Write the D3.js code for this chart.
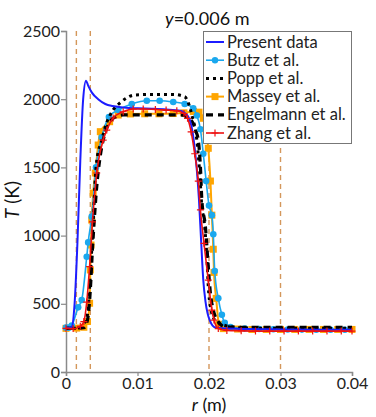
<!DOCTYPE html>
<html><head><meta charset="utf-8">
<script src="https://cdn.jsdelivr.net/npm/d3@7"></script>
<style>body{margin:0;background:#fff}svg{display:block}text{font-family:"Lato","DejaVu Sans",sans-serif}</style>
</head><body>
<svg id="c" width="376" height="417"></svg>
<script>
const xTicks = [0, 0.01, 0.02, 0.03, 0.04];
const xTickLabels = ["0", "0.01", "0.02", "0.03", "0.04"];
const yTicks = [0, 500, 1000, 1500, 2000, 2500];
const yTickLabels = ["0", "500", "1000", "1500", "2000", "2500"];
const refLinesR = [0.00145, 0.0034, 0.02, 0.03];

const presentR = [0, 0.0005, 0.0008, 0.0012, 0.0016, 0.0020, 0.0024, 0.0028, 0.0031, 0.0036, 0.0045, 0.0055, 0.0065, 0.008, 0.010, 0.012, 0.014, 0.016, 0.0168, 0.0173, 0.0177, 0.0180, 0.0183, 0.0186, 0.0189, 0.0192, 0.0195, 0.0198, 0.0201, 0.0205, 0.0210, 0.025, 0.03, 0.035, 0.04];
const presentT = [325, 325, 330, 500, 950, 1550, 2000, 2136, 2100, 2050, 2000, 1965, 1950, 1940, 1933, 1930, 1925, 1915, 1890, 1850, 1760, 1640, 1480, 1261, 960, 674, 520, 430, 380, 340, 325, 315, 312, 310, 310];

const butzR = [0, 0.0004, 0.0008, 0.0017, 0.0022, 0.0029, 0.0031, 0.0036, 0.0042, 0.0050, 0.0060, 0.0073, 0.0092, 0.0113, 0.0131, 0.0150, 0.0166, 0.0178, 0.0183, 0.0188, 0.0192, 0.0196, 0.0200, 0.0204, 0.0206, 0.0208, 0.0213, 0.0218, 0.0222, 0.0230, 0.0250, 0.0270, 0.0290, 0.0310, 0.0330, 0.0350, 0.0370, 0.0390];
const butzT = [325, 325, 340, 474, 528, 845, 950, 1139, 1500, 1720, 1870, 1921, 1965, 1989, 1989, 1980, 1965, 1933, 1880, 1780, 1600, 1400, 1220, 1150, 1010, 740, 540, 420, 360, 330, 318, 315, 313, 312, 311, 310, 310, 310];

const poppR = [0, 0.0020, 0.0026, 0.0030, 0.0034, 0.0037, 0.0039, 0.0041, 0.0043, 0.0050, 0.0055, 0.0066, 0.0076, 0.0085, 0.0095, 0.012, 0.015, 0.0166, 0.0172, 0.0176, 0.0183, 0.0187, 0.0190, 0.0193, 0.0197, 0.0199, 0.0202, 0.0208, 0.0220, 0.0250, 0.0400];
const poppT = [320, 322, 360, 420, 700, 1000, 1200, 1432, 1550, 1700, 1798, 1921, 1975, 2010, 2030, 2035, 2035, 2018, 1960, 1884, 1700, 1459, 1212, 1114, 845, 625, 479, 381, 345, 322, 320];

const masseyR = [0, 0.0015, 0.0025, 0.0030, 0.0033, 0.0034, 0.0035, 0.0036, 0.0038, 0.0041, 0.0045, 0.0048, 0.0061, 0.0073, 0.0090, 0.0110, 0.0130, 0.0150, 0.0165, 0.0178, 0.0186, 0.0192, 0.0196, 0.0199, 0.0202, 0.0204, 0.0206, 0.0207, 0.0210, 0.0214, 0.0220, 0.0240, 0.0260, 0.0280, 0.0300, 0.0320, 0.0340, 0.0360, 0.0380, 0.0400];
const masseyT = [320, 322, 328, 370, 504, 748, 931, 1114, 1312, 1459, 1664, 1762, 1835, 1884, 1892, 1893, 1893, 1895, 1900, 1910, 1905, 1860, 1760, 1640, 1400, 1150, 900, 730, 540, 350, 318, 315, 312, 312, 312, 312, 312, 312, 312, 312];

const engelR = [0, 0.0025, 0.0030, 0.0034, 0.0037, 0.0040, 0.0043, 0.0047, 0.0052, 0.0058, 0.0066, 0.008, 0.012, 0.016, 0.0172, 0.0178, 0.0182, 0.0185, 0.0188, 0.0190, 0.0195, 0.0199, 0.0202, 0.0206, 0.0213, 0.0222, 0.025, 0.04];
const engelT = [320, 325, 380, 600, 900, 1150, 1360, 1550, 1700, 1800, 1860, 1885, 1885, 1885, 1860, 1820, 1760, 1700, 1505, 1261, 1065, 772, 577, 455, 369, 332, 328, 328];

const zhangR = [0, 0.0010, 0.0020, 0.0025, 0.0029, 0.0033, 0.0037, 0.0043, 0.0052, 0.0057, 0.0066, 0.0080, 0.0094, 0.0108, 0.0125, 0.0140, 0.0155, 0.0165, 0.0170, 0.0175, 0.0180, 0.0185, 0.0188, 0.0193, 0.0199, 0.0204, 0.0207, 0.0213, 0.0225, 0.0245, 0.0265, 0.0285, 0.0305, 0.0325, 0.0345, 0.0365, 0.0385, 0.0400];
const zhangT = [320, 318, 335, 370, 513, 772, 1100, 1459, 1700, 1774, 1862, 1908, 1928, 1928, 1925, 1920, 1915, 1895, 1860, 1760, 1600, 1400, 1188, 943, 674, 454, 381, 318, 305, 302, 300, 300, 300, 300, 300, 300, 300, 300];

const seriesNames = ["Present data", "Butz et al.", "Popp et al.", "Massey et al.", "Engelmann et al.", "Zhang et al."];

const svg = d3.select("#c");
const x = d3.scaleLinear().domain([0, 0.04]).range([66, 352]);
const y = d3.scaleLinear().domain([0, 2500]).range([372, 31]);

// reference dashed lines
svg.append("g").selectAll("line").data(refLinesR).join("line")
  .attr("x1", d => x(d)).attr("x2", d => x(d))
  .attr("y1", y(2500)).attr("y2", y(0))
  .attr("stroke", "#cd853f").attr("stroke-width", 1.4)
  .attr("stroke-dasharray", "5,4").attr("opacity", 0.85);

// axes
const axisColor = "#8a8a8a";
const xAxis = svg.append("g").attr("transform", `translate(0,${y(0)})`)
  .call(d3.axisBottom(x).tickValues(xTicks).tickFormat((d, i) => xTickLabels[i]).tickSize(4).tickPadding(2));
const yAxis = svg.append("g").attr("transform", `translate(${x(0)},0)`)
  .call(d3.axisLeft(y).tickValues(yTicks).tickFormat((d, i) => yTickLabels[i]).tickSize(5).tickPadding(1));
[xAxis, yAxis].forEach(a => {
  a.select(".domain").attr("stroke", axisColor).attr("stroke-width", 1.5);
  a.selectAll(".tick line").attr("stroke", axisColor).attr("stroke-width", 1.2);
  a.selectAll(".tick text").attr("fill", "#222").attr("font-size", 16)
    .attr("font-family", "Lato, 'DejaVu Sans', sans-serif");
});

function pts(R, T) { return R.map((r, i) => [r, T[i]]); }
const line = d3.line().x(d => x(d[0])).y(d => y(d[1])).curve(d3.curveMonotoneX);
const plot = svg.append("g");

const present = pts(presentR, presentT);
const butz = pts(butzR, butzT);
const popp = pts(poppR, poppT);
const massey = pts(masseyR, masseyT);
const engel = pts(engelR, engelT);
const zhang = pts(zhangR, zhangT);

const cBlue = "#1c1cff", cCyan = "#1aa8ee", cOrange = "#ffa500", cRed = "#ee1111";

plot.append("path").attr("d", line(massey)).attr("fill", "none").attr("stroke", cOrange).attr("stroke-width", 2);
plot.selectAll(".msq").data(massey).join("rect").attr("class", "msq")
  .attr("x", d => x(d[0]) - 3.5).attr("y", d => y(d[1]) - 3.5).attr("width", 7).attr("height", 7).attr("fill", cOrange);
plot.append("path").attr("d", line(butz)).attr("fill", "none").attr("stroke", cCyan).attr("stroke-width", 1.6);
plot.selectAll(".bc").data(butz).join("circle").attr("class", "bc")
  .attr("cx", d => x(d[0])).attr("cy", d => y(d[1])).attr("r", 3.3).attr("fill", cCyan);
plot.append("path").attr("d", line(engel)).attr("fill", "none").attr("stroke", "#000").attr("stroke-width", 3.2).attr("stroke-dasharray", "7,5");
plot.append("path").attr("d", line(popp)).attr("fill", "none").attr("stroke", "#000").attr("stroke-width", 3).attr("stroke-dasharray", "3,4");
plot.append("path").attr("d", line(present)).attr("fill", "none").attr("stroke", cBlue).attr("stroke-width", 2);
plot.append("path").attr("d", line(zhang)).attr("fill", "none").attr("stroke", cRed).attr("stroke-width", 1.6);
plot.selectAll(".zp").data(zhang).join("path").attr("class", "zp")
  .attr("d", d => `M${x(d[0]) - 3.5},${y(d[1])}h7M${x(d[0])},${y(d[1]) - 3.5}v7`)
  .attr("stroke", cRed).attr("stroke-width", 1.2);

// legend
const lg = svg.append("g");
lg.append("rect").attr("x", 203.5).attr("y", 31.5).attr("width", 148).attr("height", 112)
  .attr("fill", "#fff").attr("stroke", "#777").attr("stroke-width", 1);
const ly = d3.scalePoint().domain(seriesNames).range([42, 133]);
const styles = [
  {c: cBlue, w: 2, dash: null, m: null},
  {c: cCyan, w: 1.6, dash: null, m: "circle"},
  {c: "#000", w: 3, dash: "3,4", m: null},
  {c: cOrange, w: 2, dash: null, m: "square"},
  {c: "#000", w: 3.2, dash: "7,5", m: null},
  {c: cRed, w: 1.6, dash: null, m: "plus"}
];
seriesNames.forEach((n, i) => {
  const s = styles[i], yy = ly(n);
  lg.append("line").attr("x1", 206).attr("x2", 224).attr("y1", yy).attr("y2", yy)
    .attr("stroke", s.c).attr("stroke-width", s.w).attr("stroke-dasharray", s.dash);
  if (s.m === "circle") lg.append("circle").attr("cx", 215).attr("cy", yy).attr("r", 3.2).attr("fill", s.c);
  if (s.m === "square") lg.append("rect").attr("x", 211.5).attr("y", yy - 3.5).attr("width", 7).attr("height", 7).attr("fill", s.c);
  if (s.m === "plus") lg.append("path").attr("d", `M211.5,${yy}h7M215,${yy - 3.5}v7`).attr("stroke", s.c).attr("stroke-width", 1.2);
  lg.append("text").attr("x", 227).attr("y", yy + 5.5).attr("font-size", 16.5).attr("fill", "#222").text(n);
});

// title
const t = svg.append("text").attr("x", 165).attr("y", 25).attr("font-size", 18).attr("fill", "#111");
t.append("tspan").attr("font-style", "italic").text("y");
t.append("tspan").text("=0.006 m");

// axis titles
const xt = svg.append("text").attr("x", 209).attr("y", 411).attr("text-anchor", "middle").attr("font-size", 18).attr("fill", "#111");
xt.append("tspan").attr("font-style", "italic").text("r");
xt.append("tspan").text(" (m)");
const yt = svg.append("text").attr("transform", "translate(19,200) rotate(-90)").attr("text-anchor", "middle").attr("font-size", 19).attr("fill", "#111");
yt.append("tspan").attr("font-style", "italic").text("T");
yt.append("tspan").text(" (K)");
</script>
</body></html>
